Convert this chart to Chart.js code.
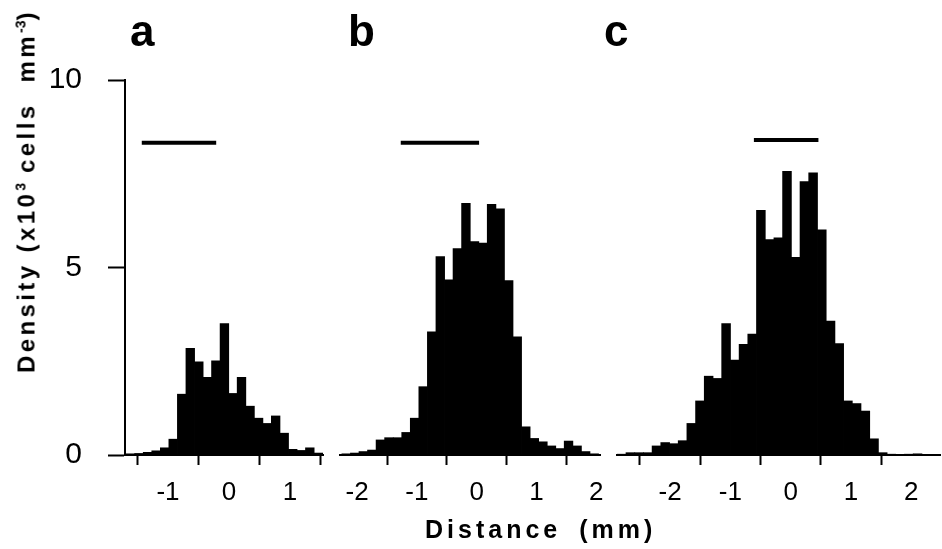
<!DOCTYPE html>
<html>
<head>
<meta charset="utf-8">
<script src="https://cdn.jsdelivr.net/npm/chart.js@4.4.1/dist/chart.umd.min.js"></script>
<style>
  body { margin: 0; background: #fff; }
  #page { position: relative; width: 942px; height: 549px; overflow: hidden; background: #fff;
          font-family: "Liberation Sans", Arial, sans-serif; color: #000; }
  #page canvas { position: absolute; left: 0; top: 0; }
  .panel { position: absolute; font-weight: bold; font-size: 44px; line-height: 1; }
  #ytitle { position: absolute; left: 26px; top: 191px; white-space: nowrap; font-weight: bold;
            font-size: 24px; letter-spacing: 3.4px; line-height: 1;
            transform: translate(-50%, -50%) rotate(-90deg); }
  #ytitle sup { font-size: 14px; letter-spacing: 0; }
  #xtitle { position: absolute; left: 425px; top: 517px; white-space: nowrap; font-weight: bold;
            font-size: 25px; letter-spacing: 4px; word-spacing: 7px; line-height: 1; }
</style>
</head>
<body>
<div id="page">
  <canvas id="chartA" width="942" height="549"></canvas>
  <canvas id="chartB" width="942" height="549"></canvas>
  <canvas id="chartC" width="942" height="549"></canvas>
  <div class="panel" style="left:130px;top:9px">a</div>
  <div class="panel" style="left:348px;top:9px">b</div>
  <div class="panel" style="left:604px;top:9px">c</div>
  <div id="ytitle">Density (x10<sup>3</sup> cells&nbsp; mm<sup>-3</sup>)</div>
  <div id="xtitle">Distance (mm)</div>
</div>
<script>
// bin centres (mm) and densities (x10^3 cells mm^-3)
const centersA = [-1.615, -1.475, -1.335, -1.195, -1.055, -0.915, -0.775, -0.635, -0.495, -0.355,
  -0.215, -0.075, 0.065, 0.205, 0.345, 0.485, 0.625, 0.765, 0.905, 1.045, 1.185, 1.325, 1.465];
const densityA = [0.03, 0.04, 0.07, 0.11, 0.19, 0.42, 1.62, 2.84, 2.48, 2.07,
  2.51, 3.50, 1.64, 2.07, 1.30, 0.98, 0.84, 1.04, 0.58, 0.15, 0.12, 0.19, 0.05];

const centersB = [-2.182, -2.039, -1.896, -1.753, -1.610, -1.467, -1.324, -1.181, -1.038, -0.895,
  -0.752, -0.609, -0.466, -0.323, -0.180, -0.037, 0.106, 0.249, 0.392, 0.535,
  0.678, 0.821, 0.964, 1.107, 1.250, 1.393, 1.536, 1.679, 1.822, 1.965];
const densityB = [0.03, 0.05, 0.09, 0.13, 0.40, 0.46, 0.46, 0.60, 0.98, 1.82,
  3.28, 5.29, 4.67, 5.50, 6.71, 5.69, 5.65, 6.68, 6.56, 4.65,
  3.15, 0.75, 0.44, 0.35, 0.24, 0.17, 0.37, 0.24, 0.09, 0.03];

const centersC = [-2.803, -2.658, -2.514, -2.370, -2.225, -2.081, -1.937, -1.792, -1.648, -1.504,
  -1.360, -1.215, -1.071, -0.927, -0.782, -0.638, -0.494, -0.350, -0.205, -0.061,
  0.083, 0.228, 0.372, 0.516, 0.661, 0.805, 0.949, 1.093, 1.238, 1.382,
  1.526, 1.671, 1.815, 1.959, 2.104, 2.248];
const densityC = [0.02, 0.06, 0.06, 0.06, 0.24, 0.33, 0.30, 0.38, 0.84, 1.44,
  2.10, 2.04, 3.50, 2.53, 2.95, 3.22, 6.52, 5.74, 5.79, 7.56,
  5.27, 7.29, 7.52, 6.00, 3.57, 2.97, 1.44, 1.37, 1.17, 0.43,
  0.06, 0.02, 0.01, 0.02, 0.03, 0.01];

// horizontal bars above each histogram: [from, to] in mm, and their height
const spanA = [-1.43, -0.21];
const spanB = [-1.27, 0.04];
const spanC = [-0.61, 0.46];
const spanY = [8.33, 8.33, 8.4];

// axes
const yTicks = [0, 5, 10];
const xTicksA = [-1, 0, 1];
const xTicksB = [-2, -1, 0, 1, 2];
const xTicksC = [-2, -1, 0, 1, 2];
const xRangeA = [-1.705, 1.541];
const xRangeB = [-2.286, 2.062];
const xRangeC = [-2.88, 2.476];

const FONT = '"Liberation Sans", Arial, sans-serif';

function makePanel(id, centers, values, span, spanHeight, xTicks, xRange, pad, showY) {
  const bars = centers.map((x, i) => ({ x: x, y: values[i] }));
  return new Chart(document.getElementById(id), {
    type: 'bar',
    data: {
      datasets: [
        {
          type: 'bar', data: bars, backgroundColor: '#000', borderWidth: 0,
          barPercentage: 1, categoryPercentage: 1, inflateAmount: 0.4
        },
        {
          type: 'line', data: [{ x: span[0], y: spanHeight }, { x: span[1], y: spanHeight }],
          borderColor: '#000', borderWidth: 4, pointRadius: 0, borderCapStyle: 'butt', fill: false
        }
      ]
    },
    options: {
      responsive: false, animation: false, devicePixelRatio: 1,
      layout: { padding: pad },
      plugins: { legend: { display: false }, tooltip: { enabled: false }, title: { display: false } },
      scales: {
        x: {
          type: 'linear', min: xRange[0], max: xRange[1], offset: false,
          afterBuildTicks: s => { s.ticks = xTicks.map(v => ({ value: v })); },
          afterFit: s => { s.height = 94; },
          grid: { drawOnChartArea: false, drawTicks: true, tickLength: 10, tickWidth: 2, tickColor: '#000' },
          border: { display: true, color: '#000', width: 2 },
          ticks: { color: '#000', padding: 12, maxRotation: 0, autoSkip: false,
                   font: { family: FONT, size: 26 }, callback: v => String(v) }
        },
        y: {
          display: showY, min: 0, max: 10,
          afterBuildTicks: s => { s.ticks = yTicks.map(v => ({ value: v })); },
          afterFit: s => { s.width = showY ? 125 : 0; },
          grid: { drawOnChartArea: false, drawTicks: true, tickLength: 17, tickWidth: 2, tickColor: '#000' },
          border: { display: true, color: '#000', width: 2 },
          ticks: { color: '#000', padding: 26, font: { family: FONT, size: 30 }, callback: v => String(v) }
        }
      }
    }
  });
}

makePanel('chartA', centersA, densityA, spanA, spanY[0], xTicksA, xRangeA,
  { left: 0, right: 619, top: 80, bottom: 0 }, true);
makePanel('chartB', centersB, densityB, spanB, spanY[1], xTicksB, xRangeB,
  { left: 340, right: 342, top: 80, bottom: 0 }, false);
makePanel('chartC', centersC, densityC, spanC, spanY[2], xTicksC, xRangeC,
  { left: 617, right: 2, top: 80, bottom: 0 }, false);
</script>
</body>
</html>
